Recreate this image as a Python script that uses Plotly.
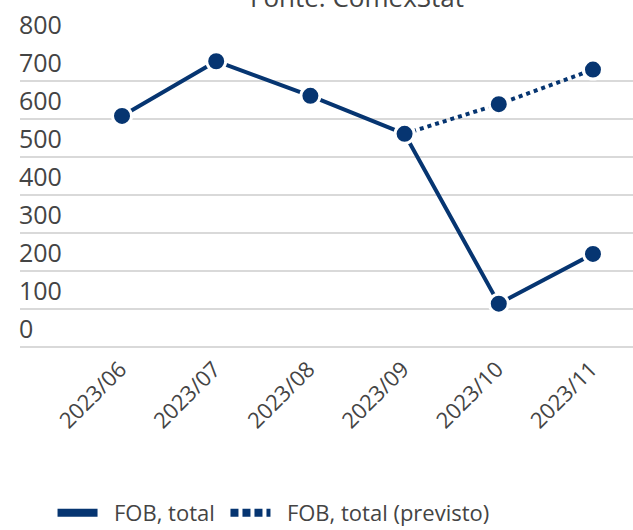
import plotly.graph_objects as go

categories = ["2023/06", "2023/07", "2023/08", "2023/09", "2023/10", "2023/11"]
fob_total = [608, 752, 661, 561, 114, 245]
forecast_categories = ["2023/09", "2023/10", "2023/11"]
fob_forecast = [561, 639, 730]
y_ticks = [0, 100, 200, 300, 400, 500, 600, 700, 800]

COLOR = "#063571"
FONT = "Open Sans"
TEXT = "#444444"
NB = "\u00a0"

fig = go.Figure()

fig.add_trace(go.Scatter(
    x=forecast_categories, y=fob_forecast, mode="lines+markers",
    line=dict(color=COLOR, width=4, dash="4px,4px"),
    marker=dict(size=19, color=COLOR, line=dict(color="white", width=3)),
    showlegend=False, hoverinfo="skip"))
fig.add_trace(go.Scatter(
    x=categories, y=fob_total, mode="lines+markers",
    line=dict(color=COLOR, width=4),
    marker=dict(size=19, color=COLOR, line=dict(color="white", width=3)),
    showlegend=False, hoverinfo="skip"))

# legend-only entries
fig.add_trace(go.Scatter(x=[None], y=[None], mode="lines",
                         name=NB * 2 + "FOB, total" + NB,
                         line=dict(color=COLOR, width=8)))
fig.add_trace(go.Scatter(x=[None], y=[None], mode="lines",
                         name=NB * 2 + "FOB, total (previsto)",
                         line=dict(color=COLOR, width=8, dash="8px,4px")))

# y tick labels (left-aligned, above each gridline)
for v in y_ticks:
    fig.add_annotation(text=str(v), xref="paper", yref="y", x=0, y=v,
                       xanchor="left", yanchor="bottom", yshift=0, xshift=-3,
                       showarrow=False,
                       font=dict(family=FONT, size=25, color=TEXT))

fig.add_annotation(text="Fonte: ComexStat", xref="paper", yref="paper",
                   x=0.55, y=1.151, yanchor="middle", xanchor="center",
                   showarrow=False, font=dict(family=FONT, size=26, color=TEXT))

fig.update_layout(
    width=633, height=530,
    margin=dict(l=20, r=0, t=43, b=183),
    paper_bgcolor="white", plot_bgcolor="white",
    font=dict(family=FONT, color=TEXT),
    xaxis=dict(type="category", categoryorder="array", categoryarray=categories,
               range=[-1.083, 5.425], showgrid=False, zeroline=False,
               showline=False, tickangle=-45, ticklabelshift=-2,
               ticklabelstandoff=4,
               tickfont=dict(family=FONT, size=22, color=TEXT), ticks=""),
    yaxis=dict(range=[0, 800], tickvals=y_ticks, showgrid=True,
               gridcolor="#d9d9d9", gridwidth=2, zeroline=True,
               zerolinecolor="#d9d9d9", zerolinewidth=2,
               showticklabels=False, ticks=""),
    legend=dict(orientation="h", xref="container", yref="container",
                x=0.083, y=0.032, xanchor="left", yanchor="middle",
                font=dict(family=FONT, size=22, color=TEXT),
                itemwidth=40),
)

fig.write_html("out.html", config={"displayModeBar": False},
               post_script="document.body.style.margin='0';")
